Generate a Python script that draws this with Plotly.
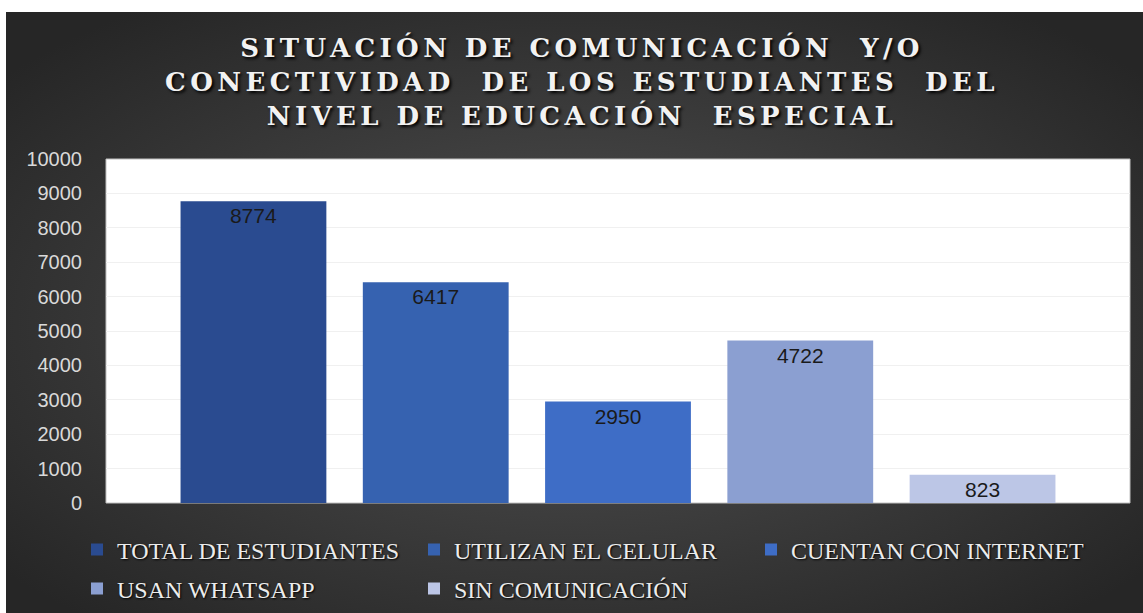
"""
Situación de comunicación y/o conectividad - nivel de educación especial.
Bar chart rebuilt with Plotly.
"""

import base64
import plotly.graph_objects as go

# Data
categorias = [
    "TOTAL DE ESTUDIANTES",
    "UTILIZAN EL CELULAR",
    "CUENTAN CON INTERNET",
    "USAN WHATSAPP",
    "SIN COMUNICACIÓN",
]
valores = [8774, 6417, 2950, 4722, 823]
colores = ["#2a4b90", "#3662b0", "#3e6dc6", "#8b9fd1", "#bcc6e6"]
# which legend row each series goes to
fila_leyenda = ["legend", "legend", "legend", "legend2", "legend2"]

y_ticks = list(range(0, 10001, 1000))

TITULO = ("SITUACIÓN DE COMUNICACIÓN  Y/O<br>"
          "CONECTIVIDAD  DE LOS ESTUDIANTES  DEL<br>"
          "NIVEL DE EDUCACIÓN  ESPECIAL")

# Figure geometry (px)
W, H = 1143, 613
ML, MR, MT, MB = 106, 13, 159, 110
PW, PH = W - ML - MR, H - MT - MB

# Dark radial gradient used as chart background (drawn as a layout image)
svg = (
    '<svg xmlns="http://www.w3.org/2000/svg" width="1137" height="601" '
    'viewBox="0 0 1137 601" preserveAspectRatio="none"><defs>'
    '<radialGradient id="g" cx="50%" cy="52%" r="65%">'
    '<stop offset="0" stop-color="#535353"/>'
    '<stop offset="1" stop-color="#262626"/>'
    '</radialGradient></defs>'
    '<rect width="1137" height="601" fill="url(#g)"/></svg>'
)
bg_src = "data:image/svg+xml;base64," + base64.b64encode(svg.encode()).decode()

fig = go.Figure()

for i, (cat, val, col) in enumerate(zip(categorias, valores, colores)):
    fig.add_trace(go.Bar(
        x=[""],
        y=[val],
        name=cat,
        marker=dict(color=col, line=dict(width=0)),
        text=[str(val)],
        textposition="inside",
        insidetextanchor="end",
        textangle=0,
        constraintext="none",
        textfont=dict(family="Liberation Sans", size=21, color="#1a1a1a"),
        legend=fila_leyenda[i],
        hoverinfo="name+y",
    ))

legend_font = dict(family="Liberation Serif", size=24, color="#ececec",
                   shadow="1px 1px 2px #000")
legend_x = (77 - ML) / PW
spaced = '<span style="letter-spacing:4.4px">'

fig.update_layout(
    width=W,
    height=H,
    margin=dict(l=ML, r=MR, t=MT, b=MB, autoexpand=False),
    paper_bgcolor="white",
    plot_bgcolor="white",
    barmode="group",
    bargap=0.11,
    bargroupgap=0.2,
    title=dict(
        text=spaced + TITULO.replace("<br>", "</span><br>" + spaced) + "</span>",
        x=582 / W,
        xanchor="center",
        xref="container",
        y=1 - 57 / H,
        yanchor="top",
        yref="container",
        font=dict(family="DejaVu Serif", size=26, color="#f2f2f2",
                  weight="bold", shadow="2px 2px 3px #000"),
    ),
    xaxis=dict(showticklabels=False, showgrid=False, zeroline=False),
    yaxis=dict(
        range=[0, 10000],
        tickvals=y_ticks,
        tickformat="d",
        showgrid=True,
        gridcolor="#f0f0f0",
        zeroline=False,
        tickfont=dict(family="Liberation Sans", size=20, color="#d9d9d9"),
        ticklabelstandoff=23,
    ),
    legend=dict(
        orientation="h",
        x=legend_x, xanchor="left",
        y=(503 - 550) / PH, yanchor="middle",
        entrywidth=292, entrywidthmode="pixels",
        font=legend_font,
        bgcolor="rgba(0,0,0,0)",
        itemclick=False,
    ),
    legend2=dict(
        orientation="h",
        x=legend_x, xanchor="left",
        y=(503 - 589) / PH, yanchor="middle",
        entrywidth=292, entrywidthmode="pixels",
        font=legend_font,
        bgcolor="rgba(0,0,0,0)",
        itemclick=False,
    ),
    images=[dict(
        source=bg_src,
        xref="paper", yref="paper",
        x=(6 - ML) / PW, y=(MT + PH - 12) / PH,
        sizex=(W - 6) / PW, sizey=(H - 12) / PH,
        xanchor="left", yanchor="top",
        sizing="stretch",
        layer="below",
    )],
    shapes=[dict(
        type="rect",
        xref="paper", yref="paper",
        x0=0, x1=1, y0=0, y1=1,
        fillcolor="white",
        line=dict(color="#c0c0c0", width=1),
        layer="below",
    )],
)

fig.write_html("out.html", config={"displayModeBar": False},
               post_script="document.body.style.margin = '0';")
